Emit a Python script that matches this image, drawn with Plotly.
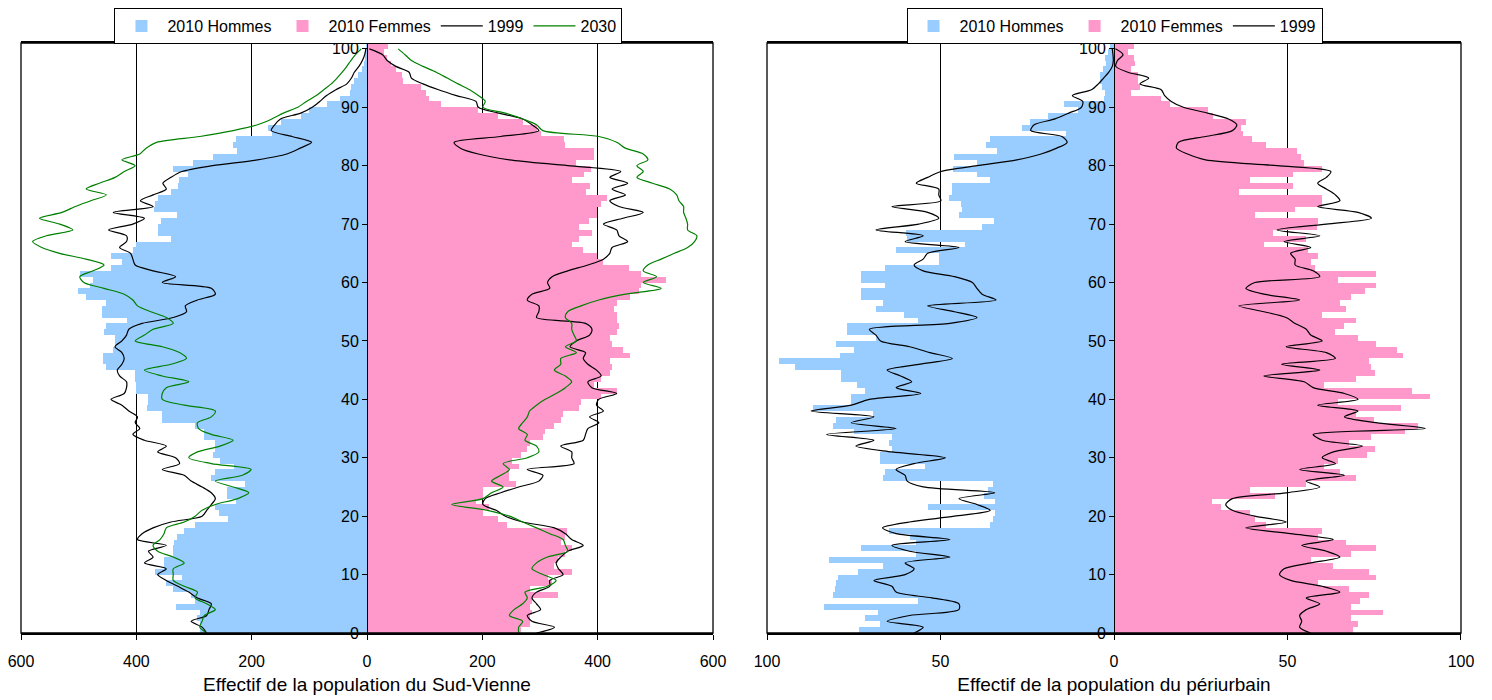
import plotly.graph_objects as go

AGES = list(range(101))

# ---- Sud-Vienne (left) ----
M2010_SV = [290, 290, 294, 290, 332, 298, 305, 336, 348, 320,
            367, 352, 352, 336, 336, 335, 330, 318, 298, 241,
            257, 263, 228, 243, 243, 212, 270, 263, 230, 255,
            267, 263, 263, 282, 282, 298, 355, 355, 382, 379,
            379, 400, 400, 402, 402, 452, 458, 458, 440, 437,
            437, 456, 452, 417, 460, 460, 452, 487, 502, 480,
            475, 497, 444, 425, 444, 405, 400, 340, 362, 362,
            357, 330, 369, 367, 362, 340, 328, 326, 310, 336,
            301, 267, 226, 233, 228, 165, 172, 150, 115, 100,
            70, 46, 30, 27, 22, 15, 8, 5, 3, 2, 1]
F2010_SV = [267, 282, 282, 286, 282, 286, 332, 282, 321, 313,
            355, 325, 332, 344, 355, 336, 344, 346, 243, 228,
            201, 212, 189, 201, 201, 259, 247, 247, 263, 251,
            267, 278, 282, 305, 309, 325, 336, 340, 367, 371,
            406, 433, 394, 406, 421, 425, 421, 456, 444, 425,
            421, 433, 437, 433, 433, 429, 433, 456, 471, 475,
            519, 475, 454, 410, 398, 375, 355, 367, 390, 367,
            385, 398, 398, 406, 417, 380, 386, 355, 377, 389,
            363, 394, 394, 344, 342, 301, 294, 270, 228, 193,
            128, 108, 103, 93, 63, 60, 50, 42, 35, 30, 37]
M1999_SV = [278, 286, 305, 278, 274, 270, 294, 309, 328, 348,
            363, 348, 386, 371, 379, 348, 398, 390, 371, 340,
            286, 278, 270, 263, 270, 286, 305, 317, 355, 325,
            332, 363, 348, 386, 406, 394, 402, 398, 413, 425,
            444, 421, 417, 417, 429, 433, 425, 421, 425, 437,
            425, 417, 413, 390, 336, 313, 315, 294, 263, 270,
            355, 332, 371, 402, 406, 410, 429, 417, 417, 448,
            406, 386, 440, 371, 393, 371, 348, 354, 340, 321,
            268, 190, 139, 116, 96, 130, 166, 160, 150, 115,
            95, 82, 70, 54, 35, 27, 22, 14, 8, 4, 2]
F1999_SV = [294, 325, 286, 278, 301, 294, 286, 294, 317, 317,
            340, 332, 328, 336, 348, 375, 355, 344, 325, 270,
            240, 224, 201, 205, 232, 263, 298, 305, 278, 359,
            355, 355, 336, 375, 379, 383, 402, 386, 410, 398,
            402, 433, 390, 383, 406, 398, 383, 375, 379, 352,
            363, 386, 390, 379, 294, 298, 298, 278, 286, 317,
            313, 321, 348, 383, 410, 421, 425, 452, 437, 433,
            410, 444, 479, 437, 421, 448, 425, 452, 421, 440,
            348, 247, 193, 162, 151, 232, 298, 286, 270, 228,
            193, 189, 155, 124, 97, 77, 73, 50, 35, 27, 4]
M2030_SV = [278, 290, 286, 282, 263, 278, 298, 294, 317, 336,
            336, 336, 317, 336, 363, 371, 359, 352, 348, 317,
            298, 286, 263, 224, 205, 232, 263, 216, 201, 270,
            309, 294, 255, 232, 270, 292, 294, 270, 263, 317,
            355, 355, 348, 309, 355, 386, 340, 313, 325, 355,
            402, 386, 371, 336, 348, 375, 398, 406, 421, 456,
            491, 498, 475, 456, 487, 533, 564, 580, 556, 510,
            533, 568, 529, 506, 479, 452, 487, 464, 437, 421,
            402, 425, 394, 383, 365, 290, 232, 190, 165, 145,
            120, 105, 88, 75, 62, 52, 43, 35, 28, 20, 10]
F2030_SV = [263, 263, 270, 247, 255, 270, 278, 274, 313, 328,
            305, 286, 294, 313, 348, 344, 340, 317, 294, 270,
            247, 209, 147, 201, 216, 236, 216, 232, 247, 236,
            278, 298, 294, 274, 278, 263, 270, 278, 282, 294,
            309, 328, 344, 355, 344, 325, 336, 336, 363, 344,
            363, 359, 355, 355, 344, 348, 371, 402, 448, 510,
            479, 502, 479, 487, 510, 533, 556, 568, 572, 556,
            556, 553, 549, 549, 541, 537, 525, 495, 468, 479,
            468, 487, 479, 448, 433, 402, 305, 294, 270, 240,
            201, 205, 193, 178, 158, 139, 120, 97, 77, 66, 54]

# ---- Periurbain (right) ----
M2010_PU = [73.4, 67.3, 71.8, 68, 83.5, 56.6, 80.9, 80.5, 80.2, 79.6,
            73.8, 66.7, 82.2, 57, 72.9, 57, 58.9, 64.7, 35.7, 35,
            34.4, 53.5, 34.4, 37.6, 36.3, 35, 66.7, 66, 54.4, 67.3,
            67.3, 64, 64.7, 64, 75, 80.9, 80.2, 69.5, 86.7, 75.7,
            75.7, 71.8, 74, 78.6, 78.6, 91.9, 96.6, 79, 75, 80,
            68.6, 77, 77, 56.6, 60.5, 68.6, 66.7, 73, 73, 66,
            72.9, 72.9, 66, 50.5, 50.5, 62.8, 42.8, 59.6, 59.8, 37.9,
            34.6, 44.7, 43.7, 44, 47.5, 46.6, 46.6, 35.7, 39.5, 46.3,
            39.5, 46, 33.7, 37, 35.7, 13.7, 26.6, 24.3, 19, 10.4,
            14.4, 2.9, 2.7, 3.6, 4.1, 4.1, 3.2, 2.2, 2.5, 1.7, 1.2]
F2010_PU = [69, 70.3, 68.3, 77.4, 68.3, 70.9, 73.5, 67.7, 58.7, 75.5,
            73.5, 63.2, 56.7, 68.3, 75.5, 67, 58.7, 60, 43.8, 40.6,
            39.3, 30.9, 28.3, 46.4, 39.3, 55.4, 69.6, 65.1, 60.6, 64.5,
            72.9, 75.2, 67.7, 74.2, 84, 87.5, 74.8, 69.6, 82.6, 64.5,
            91.2, 85.8, 60.6, 69.6, 75.2, 74.2, 73.5, 83.2, 81.7, 75.5,
            70.3, 63.8, 66.4, 69.6, 60, 67, 65, 68.3, 72.2, 75.5,
            64.5, 75.5, 58, 56.7, 58.7, 56, 43.2, 55.4, 45.7, 58.4,
            58.7, 40.6, 52.2, 60, 60, 36, 51.5, 39.3, 51.5, 60,
            54.8, 54, 52.8, 43.8, 39.9, 37.3, 36.7, 38, 28.5, 27,
            16, 13.6, 5, 7.4, 6.9, 6.9, 5, 6, 5.8, 4, 5.8]
M1999_PU = [57.6, 55, 65.4, 58.9, 44.7, 44.7, 52.5, 62.8, 64, 69.2,
            60.2, 57.6, 60.2, 47.3, 58.9, 64, 47.3, 62.8, 66.7, 58.9,
            46, 35.7, 39.5, 44.7, 34.4, 55, 59.6, 60.2, 62.8, 57.6,
            48.6, 64, 74.4, 69.2, 82.8, 62.8, 75.7, 69.2, 87.3, 75.7,
            70.5, 55.7, 62.8, 58.3, 61.5, 65.4, 56.3, 46.6, 53.1, 58.9,
            67.3, 68.6, 70.5, 47.3, 39.5, 46, 53.7, 34, 38, 39.5,
            40.8, 46, 55, 57.6, 55, 53.7, 44.7, 60.2, 55, 68.6,
            56.3, 50.5, 53.7, 64, 49.9, 50.5, 50.5, 57, 53.7, 49.9,
            39.5, 28, 21, 16.5, 13.5, 15, 24, 23, 17, 13,
            9.4, 9, 12, 6.5, 4.5, 3, 1.5, 0.5, 0.2, 0.3, 0.5]
F1999_PU = [56.7, 53.5, 54.1, 53.5, 55.4, 59.3, 55.4, 65.1, 60, 50.9,
            47.7, 49, 56.7, 65.1, 61.2, 54.1, 63.2, 50.9, 38, 49.6,
            40.6, 34.1, 32.2, 34.1, 49.6, 59.3, 55.4, 66.4, 53.5, 63.8,
            60, 63.2, 71.6, 60, 57.4, 89.7, 75.5, 66.4, 70.3, 58.7,
            70.3, 66.4, 57.4, 54.8, 43.2, 59.3, 48.3, 63.8, 61.2, 49.6,
            60, 56.7, 55.4, 52.2, 49.6, 43.2, 36, 53.5, 43.2, 38,
            40.6, 59.3, 57.4, 52.2, 52.2, 50.9, 56.7, 49, 59.3, 47,
            61.2, 74.2, 70.3, 58.7, 65.1, 63.8, 61.2, 58.7, 61.2, 62.5,
            47, 26.4, 21.2, 18, 18.6, 26.4, 34.1, 35.4, 33, 27,
            20, 16.5, 14.6, 13.6, 7.5, 10, 4, 0.5, 1, 2.6, 0.4]

SV_TICKVALS = [-600, -400, -200, 0, 200, 400, 600]
SV_TICKTEXT = ["600", "400", "200", "0", "200", "400", "600"]
PU_TICKVALS = [-100, -50, 0, 50, 100]
PU_TICKTEXT = ["100", "50", "0", "50", "100"]
AGE_TICKS = list(range(0, 101, 10))

BLUE = "#99CCFF"
PINK = "#FF99CC"
GREEN = "#008000"
FONT = "Liberation Sans, Arial, sans-serif"


def neg(a):
    return [-v for v in a]


def both(left, right):
    return neg(left) + [None] + list(right), AGES + [None] + AGES


fig = go.Figure()

# Left panel
fig.add_trace(go.Bar(y=AGES, x=neg(M2010_SV), orientation="h", width=1, offset=0,
                     marker=dict(color=BLUE, line=dict(width=0)), name="2010 Hommes",
                     xaxis="x", yaxis="y", legend="legend"))
fig.add_trace(go.Bar(y=AGES, x=F2010_SV, orientation="h", width=1, offset=0,
                     marker=dict(color=PINK, line=dict(width=0)), name="2010 Femmes",
                     xaxis="x", yaxis="y", legend="legend"))
x99, y99 = both(M1999_SV, F1999_SV)
fig.add_trace(go.Scatter(x=x99, y=y99, mode="lines", name="1999",
                         line=dict(color="black", width=1.2, shape="spline", smoothing=0.8),
                         xaxis="x", yaxis="y", legend="legend"))
x30, y30 = both(M2030_SV, F2030_SV)
fig.add_trace(go.Scatter(x=x30, y=y30, mode="lines", name="2030",
                         line=dict(color=GREEN, width=1.2, shape="spline", smoothing=0.8),
                         xaxis="x", yaxis="y", legend="legend"))

# Right panel
fig.add_trace(go.Bar(y=AGES, x=neg(M2010_PU), orientation="h", width=1, offset=0,
                     marker=dict(color=BLUE, line=dict(width=0)), name="2010 Hommes",
                     xaxis="x2", yaxis="y2", legend="legend2"))
fig.add_trace(go.Bar(y=AGES, x=F2010_PU, orientation="h", width=1, offset=0,
                     marker=dict(color=PINK, line=dict(width=0)), name="2010 Femmes",
                     xaxis="x2", yaxis="y2", legend="legend2"))
x99b, y99b = both(M1999_PU, F1999_PU)
fig.add_trace(go.Scatter(x=x99b, y=y99b, mode="lines", name="1999",
                         line=dict(color="black", width=1.2, shape="spline", smoothing=0.8),
                         xaxis="x2", yaxis="y2", legend="legend2"))

xaxis_common = dict(showgrid=True, gridcolor="black", gridwidth=1, zeroline=False,
                    showline=True, linecolor="black", linewidth=1.8, mirror=True,
                    ticks="outside", ticklen=5, tickcolor="black", automargin=False,
                    tickfont=dict(size=16, color="black"), ticklabelstandoff=8,
                    ticklabeloverflow="allow")
yaxis_common = dict(range=[0, 101], anchor="free", tickvals=AGE_TICKS,
                    showline=True, linecolor="black", linewidth=1,
                    ticks="outside", ticklen=5, tickcolor="black",
                    showgrid=False, zeroline=False, automargin=False,
                    tickfont=dict(size=16, color="black"), domain=[0, 1])

# The page body has an 8 px margin: the figure is sized and offset to fit the 1492x700 window.
fig.update_layout(
    width=1484, height=692,
    margin=dict(l=13, r=31, t=35, b=67, autoexpand=False),
    paper_bgcolor="white", plot_bgcolor="white",
    barmode="overlay", bargap=0,
    font=dict(family=FONT, size=16, color="black"),
    xaxis=dict(domain=[0, 0.48056], range=[-600, 600], tickvals=SV_TICKVALS,
               ticktext=SV_TICKTEXT, anchor="y",
               title=dict(text="Effectif de la population du Sud-Vienne",
                          font=dict(size=19), standoff=9),
               **xaxis_common),
    xaxis2=dict(domain=[0.51806, 1], range=[-100, 100], tickvals=PU_TICKVALS,
                ticktext=PU_TICKTEXT, anchor="y2",
                title=dict(text="Effectif de la population du périurbain",
                           font=dict(size=19), standoff=9),
                **xaxis_common),
    yaxis=dict(position=0.24028, **yaxis_common),
    yaxis2=dict(position=0.75903, **yaxis_common),
    legend=dict(orientation="h", x=0.2413, xanchor="center", y=1.0593, yanchor="top",
                bordercolor="black", borderwidth=1, bgcolor="white",
                font=dict(size=16, color="black"), itemwidth=42),
    legend2=dict(orientation="h", x=0.7594, xanchor="center", y=1.0593, yanchor="top",
                 bordercolor="black", borderwidth=1, bgcolor="white",
                 font=dict(size=16, color="black"), itemwidth=42),
    showlegend=True,
    shapes=[
        dict(type="rect", xref="x domain", yref="y domain", x0=0, x1=1, y0=0, y1=1,
             line=dict(color="black", width=1.3), layer="above"),
        dict(type="rect", xref="x2 domain", yref="y2 domain", x0=0, x1=1, y0=0, y1=1,
             line=dict(color="black", width=1.3), layer="above"),
    ],
)

fig.write_html("out.html")
